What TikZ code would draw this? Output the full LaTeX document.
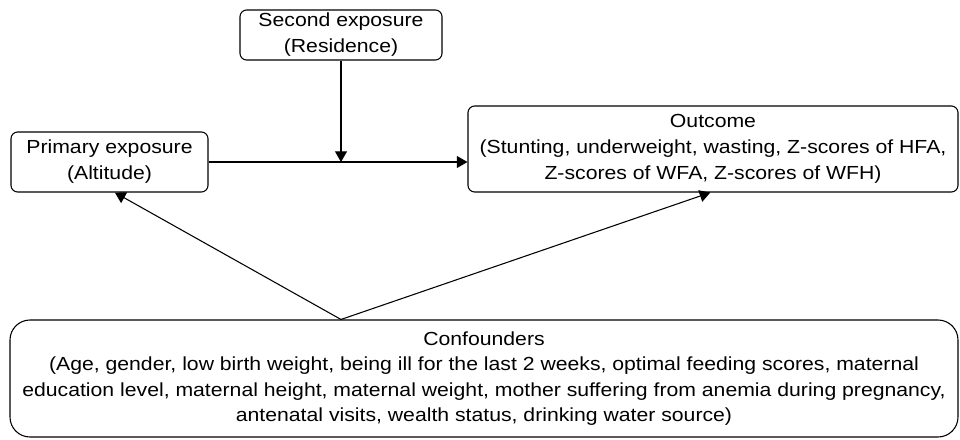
\documentclass[tikz,border=0pt]{standalone}
\usepackage{fontspec}
\setmainfont{Liberation Sans}[FakeStretch=1.12]
\usetikzlibrary{arrows.meta}

\begin{document}
\begin{tikzpicture}[x=0.75pt, y=-0.75pt, >={Triangle[length=8pt,width=9pt]},
  box/.style={draw, rounded corners=5pt, line width=0.8pt, align=center,
    inner sep=0pt, font=\fontsize{14.2}{19.5}\selectfont},
  arr/.style={->, line width=0.8pt}]

  \useasboundingbox (0,0) rectangle (960,439);

  % boxes
  \node[box, minimum width=202*0.75pt, minimum height=50*0.75pt] (second) at (341,35)
    {Second exposure\\(Residence)};
  \node[box, minimum width=197*0.75pt, minimum height=60*0.75pt] (primary) at (109.5,162)
    {Primary exposure\\(Altitude)};
  \node[box, minimum width=490*0.75pt, minimum height=86*0.75pt] (outcome) at (713,149)
    {Outcome\\(Stunting, underweight, wasting, Z-scores of HFA,\\Z-scores of WFA, Z-scores of WFH)};
  \node[box, rounded corners=15pt, minimum width=948*0.75pt, minimum height=117*0.75pt,
    font=\fontsize{14.2}{19}\selectfont] (conf) at (484,378.5)
    {Confounders\\(Age, gender, low birth weight, being ill for the last 2 weeks, optimal feeding scores, maternal\\education level, maternal height, maternal weight, mother suffering from anemia during pregnancy,\\antenatal visits, wealth status, drinking water source)};

  % meeting points
  \coordinate (j) at (second.south |- primary.east);
  \coordinate (o) at (outcome.west |- primary.east);
  \coordinate (c) at (second.south |- conf.north);

  % main path and modifier
  \draw[arr] (primary.east) -- (o);
  \draw[arr] (second.south) -- (j);

  % confounding paths
  \draw[arr] (c) -- ([xshift=4pt]primary.south);
  \draw[arr] (c) -- ([xshift=-2pt]outcome.south);

\end{tikzpicture}
\end{document}
